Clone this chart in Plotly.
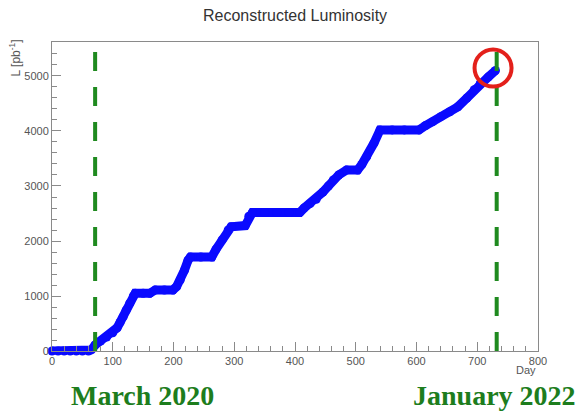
import plotly.graph_objects as go

# Integrated luminosity vs. day
day = [0, 10, 20, 30, 40, 50, 60, 65, 71, 80, 90, 100, 107, 112, 117, 122, 128, 134, 137,
       150, 161, 170, 185, 199, 205, 211, 218, 224, 228, 245, 263, 270, 280, 290, 295, 318,
       324, 330, 350, 370, 390, 408, 415, 425, 435, 446, 455, 463, 472, 485, 503, 510,
       518, 530, 540, 560, 580, 604, 615, 627, 640, 655, 668, 683, 695, 705, 718, 730]
lumi = [0, 0, 0, 0, 0, 0, 0, 20, 110, 180, 255, 330, 420, 520, 620, 740, 870, 1000, 1050,
        1050, 1050, 1110, 1110, 1110, 1170, 1290, 1470, 1650, 1710, 1710, 1710, 1850, 2020,
        2200, 2260, 2280, 2450, 2520, 2520, 2520, 2520, 2520, 2600, 2680, 2760, 2890, 3000,
        3110, 3200, 3290, 3290, 3390, 3530, 3780, 4020, 4020, 4020, 4020, 4100, 4170, 4260,
        4350, 4440, 4600, 4750, 4870, 4980, 5100]

# Marker days for the period boundaries
period_days = [71, 732]
period_labels = ["March 2020", "January 2022"]
period_label_x = [142, 494]  # label centres, pixels from the left edge

# Highlighted latest point
circle_day, circle_lumi = 726, 5145

W, H = 588, 413
L, R, T, B = 52, 50, 42, 62
pw = W - L - R
ph = H - T - B

BLUE = "#0a0aff"
GREEN = "#1f8a1f"
AXIS = "#8a8a8a"
TICK_FONT = dict(family="Liberation Sans, Arial, sans-serif", size=11, color="#555555")

fig = go.Figure()
fig.add_trace(go.Scatter(
    x=day, y=lumi, mode="lines+markers",
    line=dict(color=BLUE, width=9),
    marker=dict(color=BLUE, size=9),
    cliponaxis=False, showlegend=False, hoverinfo="skip",
))

shapes = []
for d in period_days:
    shapes.append(dict(type="line", xref="x", yref="paper", x0=d, x1=d, y0=0, y1=1,
                       line=dict(color=GREEN, width=4, dash="19px,16px")))
shapes.append(dict(type="circle", xref="x", yref="y", xsizemode="pixel", ysizemode="pixel",
                   xanchor=circle_day, yanchor=circle_lumi,
                   x0=-18.5, x1=18.5, y0=-18.5, y1=18.5,
                   line=dict(color="#e3201b", width=4)))

annotations = [
    dict(text="Reconstructed Luminosity", xref="paper", yref="paper",
         x=0.5, y=1 + (T - 15) / ph, xanchor="center", yanchor="middle",
         showarrow=False, font=dict(family="Liberation Sans, Arial, sans-serif", size=16, color="#333333")),
    dict(text="Day", xref="paper", yref="paper", x=1, y=-(370 - (H - B)) / ph,
         xanchor="right", yanchor="middle", showarrow=False, font=TICK_FONT),
    dict(text="L [pb<sup>-1</sup>]", xref="paper", yref="paper", textangle=-90,
         x=(15 - L) / pw, y=1 + 4 / ph, xanchor="center", yanchor="top",
         showarrow=False, font=dict(family="Liberation Sans, Arial, sans-serif", size=12, color="#555555")),
]
for txt, px in zip(period_labels, period_label_x):
    annotations.append(dict(text=f"<b>{txt}</b>", xref="paper", yref="paper",
                            x=(px - L) / pw, y=-(395 - (H - B)) / ph,
                            xanchor="center", yanchor="middle", showarrow=False,
                            font=dict(family="Liberation Serif, Times New Roman, serif", size=28, color="#1d7d1d")))

fig.update_layout(
    width=W, height=H, margin=dict(l=L, r=R, t=T, b=B),
    paper_bgcolor="white", plot_bgcolor="white",
    shapes=shapes, annotations=annotations,
    xaxis=dict(range=[0, 800], dtick=100, tick0=0, showgrid=False, zeroline=False,
               showline=True, mirror=True, linecolor=AXIS, linewidth=1,
               ticks="inside", ticklen=9, tickcolor=AXIS, tickfont=TICK_FONT,
               minor=dict(dtick=20, ticks="inside", ticklen=5, tickcolor=AXIS, showgrid=False)),
    yaxis=dict(range=[0, 5618], dtick=1000, tick0=0, showgrid=False, zeroline=False,
               showline=True, mirror=True, linecolor=AXIS, linewidth=1,
               ticks="inside", ticklen=9, tickcolor=AXIS, tickfont=TICK_FONT,
               minor=dict(dtick=200, ticks="inside", ticklen=5, tickcolor=AXIS, showgrid=False)),
)

fig.write_html("out.html")
